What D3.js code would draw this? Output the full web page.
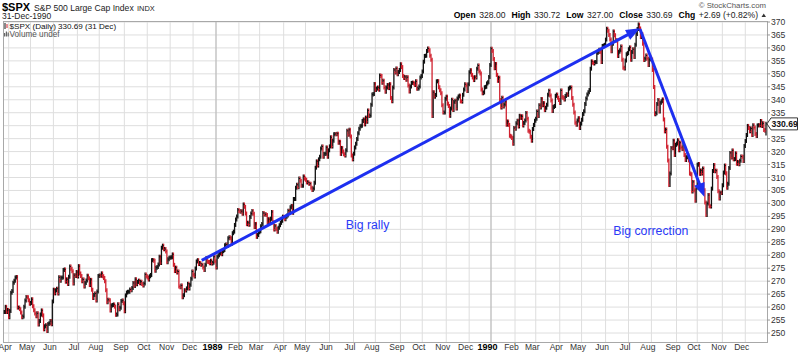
<!DOCTYPE html>
<html><head><meta charset="utf-8">
<script src="https://cdn.jsdelivr.net/npm/d3@7/dist/d3.min.js"></script>
<style>body{margin:0;background:#fff}svg{display:block}text{font-family:"Liberation Sans",Arial,Helvetica,sans-serif}</style>
</head><body><svg id="c" width="800" height="355"></svg>
<script>
// ---------- DATA ----------
const monthLabels = ["","Apr","May","Jun","Jul","Aug","Sep","Oct","Nov","Dec",
  "1989","Feb","Mar","Apr","May","Jun","Jul","Aug","Sep","Oct","Nov","Dec",
  "1990","Feb","Mar","Apr","May","Jun","Jul","Aug","Sep","Oct","Nov","Dec"];
// trading days in each month shown (Mar 1988 partial)
const monthDays = [4,20,21,22,20,23,21,21,21,21, 21,19,22,20,22,22,20,23,20,22,21,20, 22,19,22,20,22,21,21,23,19,23,21,20];

const close1988 = [
 258.1,260.1,258.1,258.9,
 256.1,258.5,265.5,266.2,269.4,270.2,271.4,271.6,259.8,259.8,259.2,257.9,256.1,256.4,260.1,262.5,263.9,263.8,262.6,261.3,
 261.6,263.0,260.3,258.8,257.5,256.5,257.6,253.3,254.6,257.1,258.7,256.8,251.4,252.6,253.0,250.8,253.5,253.8,254.6,253.4,262.2,
 266.7,265.3,266.5,267.1,265.2,271.5,270.2,271.3,271.4,274.3,274.5,269.8,270.7,268.9,271.7,275.7,274.8,273.8,269.1,272.3,272.0,273.5,
 271.8,275.8,273.0,272.0,270.0,270.6,267.9,269.3,270.3,272.1,271.1,268.5,270.5,266.7,263.5,264.7,265.2,262.5,266.0,272.0,
 272.2,272.1,273.0,271.9,271.2,270.0,266.5,261.9,262.8,262.6,258.7,260.6,260.8,261.0,260.2,257.0,257.1,261.1,259.2,259.7,262.3,262.5,261.5,
 258.4,264.5,265.6,265.9,265.9,266.8,266.5,267.4,269.3,268.1,270.7,268.8,269.7,270.2,269.2,269.8,268.9,268.3,269.1,272.6,271.9,
 271.4,270.6,271.9,272.4,278.1,278.2,277.9,274.0,275.2,275.5,276.4,279.4,277.0,282.9,283.7,282.3,282.4,281.4,277.3,278.5,279.0,
 279.1,279.2,280.3,276.3,273.9,275.2,273.3,273.7,267.9,267.7,268.3,263.8,264.6,266.5,266.4,267.2,269.0,267.2,268.6,270.9,273.7,
 272.5,271.8,274.9,277.6,278.1,276.6,277.0,276.3,276.3,275.3,274.3,276.3,278.9,277.5,277.4,276.9,277.9,276.8,277.1,279.4,277.7];
const close1989 = [
 275.3,279.4,280.0,280.7,281.0,280.4,281.6,282.0,283.9,284.1,283.6,286.6,286.9,286.6,284.5,288.5,289.1,291.7,293.8,295.0,297.5,
 297.1,296.8,297.0,296.0,299.6,298.7,296.1,292.0,292.5,291.8,294.8,296.1,297.1,296.0,290.9,292.1,287.1,287.8,288.9,
 289.3,291.2,292.1,296.3,295.7,295.8,295.5,292.7,293.9,292.9,294.1,296.7,292.7,289.9,291.3,290.1,289.1,290.6,291.6,292.5,293.3,294.9,
 294.6,293.9,294.9,295.3,297.2,296.4,298.5,299.0,296.4,301.7,301.7,306.0,307.2,306.2,309.6,308.7,306.8,306.8,310.4,309.6,
 309.1,308.1,308.2,307.6,307.6,306.0,305.2,305.8,308.0,313.8,316.2,314.6,317.0,318.0,321.2,322.0,318.0,319.1,319.2,321.6,318.0,320.5,
 322.0,325.5,322.0,324.2,326.7,326.8,326.7,326.9,323.4,323.8,319.1,321.4,320.0,319.0,318.5,320.5,328.0,326.5,328.4,325.8,318.5,317.0,
 319.2,321.6,323.0,324.9,327.1,328.8,329.8,330.0,331.8,332.4,330.5,333.1,331.5,335.9,333.7,333.9,338.1,342.0,342.2,346.1,
 343.8,344.3,344.7,343.9,349.4,349.2,346.6,347.3,344.7,343.1,344.7,345.7,344.5,346.0,340.7,339.4,344.7,351.5,350.5,352.1,349.8,350.7,351.5,
 353.7,352.6,349.2,348.4,348.8,347.7,348.7,345.5,343.2,345.1,346.5,346.6,346.3,345.7,347.1,344.2,344.3,345.1,348.6,349.2,
 350.9,354.7,356.9,357.0,358.8,359.8,359.1,357.0,355.4,333.7,342.9,341.2,341.8,347.1,347.2,344.8,343.7,342.5,337.9,335.1,335.1,340.4,
 341.2,338.5,337.6,333.8,336.6,340.0,336.0,339.1,339.6,336.6,340.5,341.3,341.6,339.4,339.3,341.9,344.0,346.0,345.6,343.4,346.0,
 350.6,351.4,349.6,348.6,347.6,348.7,348.6,352.0,353.2,350.9,350.1,344.0,342.5,342.8,344.8,345.0,346.3,346.8,348.8,353.4];
const close1990 = [
 359.7,358.8,355.7,352.2,353.8,349.6,347.3,348.5,339.9,337.0,340.8,337.4,338.2,339.2,330.4,331.6,330.3,326.1,325.8,325.2,323.0,329.1,
 328.8,330.9,331.9,329.7,333.8,333.0,333.6,330.1,331.0,332.0,334.9,332.7,328.0,327.7,325.7,324.2,328.7,330.3,331.9,
 332.7,335.5,333.7,337.9,337.0,340.3,337.9,338.7,336.0,336.9,338.1,341.9,343.5,341.6,339.7,335.7,337.2,337.6,341.5,342.0,340.8,339.9,
 338.7,343.6,341.1,340.7,340.1,341.4,342.1,341.9,344.3,344.7,344.7,340.7,338.1,335.1,331.1,330.4,332.0,332.9,329.1,330.8,
 332.3,334.5,335.6,338.4,340.5,342.0,342.9,343.8,352.0,354.8,354.3,354.0,354.5,354.6,358.0,358.4,359.3,358.4,354.6,360.7,360.9,361.2,
 363.2,367.4,366.6,365.0,363.2,358.7,361.6,366.3,364.9,362.9,362.9,356.9,358.5,359.1,360.5,355.4,352.3,352.1,355.1,357.6,358.0,
 359.5,360.2,355.4,358.4,359.5,356.5,361.2,365.4,367.3,369.0,367.5,364.2,365.3,361.6,355.3,355.8,357.1,355.9,353.4,355.6,356.2,
 355.5,351.5,344.9,334.4,334.8,338.4,339.9,335.5,338.8,339.4,340.1,332.4,327.8,328.5,321.9,316.6,307.1,311.5,321.4,321.3,324.2,318.7,322.6,
 323.1,324.4,320.5,323.4,321.6,321.0,322.5,318.7,316.8,317.8,318.6,316.6,311.5,311.3,304.6,308.3,305.1,301.0,306.1,
 314.9,315.2,311.4,312.7,311.5,313.5,305.1,300.4,295.5,300.0,303.2,298.9,298.8,305.7,312.5,314.8,312.4,312.6,310.2,304.7,301.9,304.1,304.0,
 307.0,311.9,314.6,311.6,306.0,307.6,313.7,319.5,317.7,320.4,317.0,317.1,319.3,315.3,316.0,315.1,316.5,318.1,318.0,316.4,322.2,
 324.1,326.4,329.9,329.1,327.8,328.9,326.4,330.2,329.3,326.8,326.0,330.1,330.2,330.1,331.8,329.9,330.9,328.3,328.0,330.69];
const lastBar = {open:328.00, high:330.72, low:327.00, close:330.69};
const yTicks = [370,365,360,355,350,345,340,335,330,325,320,315,310,305,300,295,290,285,280,275,270,265,260,255,250];
const headerStats = [["Open","328.00"],["High","330.72"],["Low","327.00"],["Close","330.69"],["Chg","+2.69 (+0.82%)"]];
// annotations in (trading-day index, price)
const arrows = [{i1:180.9, v1:278.0, i2:582.5, v2:367.6},{i1:582.5, v1:367.3, i2:641.6, v2:302.5}];
const notes = [{i:312.9, v:290.3, text:"Big rally"},{i:558.0, v:287.7, text:"Big correction"}];

// ---------- CHART ----------
const closes = close1988.concat(close1989, close1990);
const svg = d3.select("#c");
const P = {l:3, r:767, t:21, b:342};
const x = d3.scaleLinear().domain([0, 698]).range([4.3, 766]);
const y = d3.scaleLinear().domain([250, 370]).range([333, 22]);

const monthStart = [];
let acc = 0;
monthDays.forEach(d => { monthStart.push(acc); acc += d; });

const g = svg.append("g");
g.selectAll("line.hg").data(yTicks).join("line")
  .attr("x1", P.l).attr("x2", P.r).attr("y1", d => y(d)).attr("y2", d => y(d))
  .attr("stroke", "#dedede").attr("stroke-width", 1);
const mg = monthStart.map((s, k) => ({s, lab: monthLabels[k]})).filter(d => d.lab !== "");
g.selectAll("line.vg").data(mg).join("line")
  .attr("x1", d => x(d.s)).attr("x2", d => x(d.s)).attr("y1", P.t).attr("y2", P.b)
  .attr("stroke", d => /^\d{4}$/.test(d.lab) ? "#c0c0c0" : "#dedede")
  .attr("stroke-width", d => /^\d{4}$/.test(d.lab) ? 1.4 : 1);
g.append("rect").attr("x", P.l + 0.5).attr("y", P.t + 0.5).attr("width", P.r - P.l).attr("height", P.b - P.t)
  .attr("fill", "none").attr("stroke", "#a8a8a8").attr("stroke-width", 1);

// bars
const bars = closes.map((c, i) => {
  const p = i > 0 ? closes[i - 1] : c;
  if (i === closes.length - 1) return {i, hi: lastBar.high, lo: lastBar.low, c, up: c >= p};
  return {i, hi: Math.max(p, c), lo: Math.min(p, c), c, up: c >= p};
});
const RED = "#d0202e";
const bg = svg.append("g");
bg.selectAll("line.bar").data(bars).join("line")
  .attr("x1", d => x(d.i)).attr("x2", d => x(d.i))
  .attr("y1", d => y(d.hi) - 2).attr("y2", d => y(d.lo) + 2)
  .attr("stroke", d => d.up ? "#111" : RED).attr("stroke-width", 1.3);
bg.selectAll("line.tick").data(bars).join("line")
  .attr("x1", d => x(d.i)).attr("x2", d => x(d.i) + 1.2)
  .attr("y1", d => y(d.c)).attr("y2", d => y(d.c))
  .attr("stroke", d => d.up ? "#111" : RED).attr("stroke-width", 1);

// right axis labels
const priceY = y(lastBar.close);
const ax = svg.append("g");
ax.selectAll("line.yt").data(yTicks).join("line")
  .attr("x1", P.r).attr("x2", P.r + 3).attr("y1", d => y(d)).attr("y2", d => y(d))
  .attr("stroke", "#999");
ax.selectAll("text.yl").data(yTicks.filter(t => Math.abs(y(t) - priceY) > 8)).join("text")
  .attr("x", 771).attr("y", d => y(d)).attr("dy", "0.35em")
  .attr("font-size", 8.6).attr("fill", "#333").text(d => d);
ax.append("path")
  .attr("d", `M${P.r},${priceY} L${P.r + 4},${priceY - 6} L797.5,${priceY - 6} L797.5,${priceY + 6} L${P.r + 4},${priceY + 6} Z`)
  .attr("fill", "#fff").attr("stroke", "#222").attr("stroke-width", 0.9);
ax.append("text").attr("x", 771.5).attr("y", priceY).attr("dy", "0.36em")
  .attr("font-size", 8.6).attr("font-weight", "bold").attr("fill", "#111").text(lastBar.close.toFixed(2));

// x axis labels
svg.append("g").selectAll("text").data(mg).join("text")
  .attr("x", d => x(d.s) - 3.5).attr("y", 350).attr("text-anchor", "middle")
  .attr("font-size", d => /^\d{4}$/.test(d.lab) ? 9 : 8.5)
  .attr("font-weight", d => /^\d{4}$/.test(d.lab) ? "bold" : "normal")
  .attr("fill", d => /^\d{4}$/.test(d.lab) ? "#000" : "#333")
  .text(d => d.lab);

// annotations
const BLUE = "#1d2ff0";
const an = svg.append("g");
arrows.forEach(a => {
  const X1 = x(a.i1), Y1 = y(a.v1), X2 = x(a.i2), Y2 = y(a.v2);
  const ang = Math.atan2(Y2 - Y1, X2 - X1), L = 14, w = 5.5;
  const bx = X2 - L * Math.cos(ang), by = Y2 - L * Math.sin(ang);
  an.append("line").attr("x1", X1).attr("y1", Y1).attr("x2", bx + 2 * Math.cos(ang)).attr("y2", by + 2 * Math.sin(ang))
    .attr("stroke", BLUE).attr("stroke-width", 3);
  an.append("path").attr("d",
    `M${X2},${Y2} L${bx - w * Math.sin(ang)},${by + w * Math.cos(ang)} L${bx + w * Math.sin(ang)},${by - w * Math.cos(ang)} Z`)
    .attr("fill", BLUE);
});
an.selectAll("text").data(notes).join("text")
  .attr("x", d => x(d.i)).attr("y", d => y(d.v)).attr("font-size", 12.3).attr("fill", "#2a3af6").text(d => d.text);

// header
const hd = svg.append("g");
hd.append("text").attr("x", 2).attr("y", 10.5).attr("font-size", 11).attr("font-weight", "bold").attr("fill", "#000").text("$SPX");
hd.append("text").attr("x", 34).attr("y", 10.5).attr("font-size", 8.6).attr("fill", "#222").text("S&P 500 Large Cap Index");
hd.append("text").attr("x", 137).attr("y", 10.5).attr("font-size", 7.4).attr("fill", "#222").text("INDX");
hd.append("text").attr("x", 2).attr("y", 19).attr("font-size", 8.5).attr("fill", "#222").text("31-Dec-1990");
hd.append("text").attr("x", 766).attr("y", 8).attr("text-anchor", "end").attr("font-size", 7.8).attr("fill", "#555").text("\u00a9 StockCharts.com");
const st = hd.append("g");
let cx = 0;
headerStats.forEach(([lab, val], k) => {
  const t1 = st.append("text").attr("x", cx).attr("y", 18).attr("font-size", 8.6).attr("font-weight", "bold").attr("fill", "#000").text(lab);
  cx += t1.node().getComputedTextLength() + 3.5;
  const t2 = st.append("text").attr("x", cx).attr("y", 18).attr("font-size", 8.6).attr("fill", "#222").text(val);
  cx += t2.node().getComputedTextLength() + (k < headerStats.length - 1 ? 6 : 0);
});
st.attr("transform", `translate(${758 - cx},0)`);
hd.append("path").attr("d", "M761.5,17 L763.75,13.5 L766,17 Z").attr("fill", "#333");

// legend inside plot
const lg = svg.append("g");
lg.append("line").attr("x1", 5).attr("x2", 5).attr("y1", 23).attr("y2", 29).attr("stroke", "#111").attr("stroke-width", 1);
lg.append("line").attr("x1", 7).attr("x2", 7).attr("y1", 24).attr("y2", 28).attr("stroke", RED).attr("stroke-width", 1);
lg.append("text").attr("x", 9.5).attr("y", 28.8).attr("font-family", "'DejaVu Sans Mono',monospace").attr("font-size", 8.1)
  .attr("fill", "#111").text("$SPX (Daily) 330.69 (31 Dec)");
[[4,33],[5.8,31.5],[7.6,32.5]].forEach(([bx, by]) => lg.append("rect").attr("x", bx).attr("y", by).attr("width", 1.2).attr("height", 36.5 - by).attr("fill", "#666"));
lg.append("text").attr("x", 9.5).attr("y", 36.5).attr("font-size", 8.2).attr("fill", "#555").text("Volume undef");
</script></body></html>
